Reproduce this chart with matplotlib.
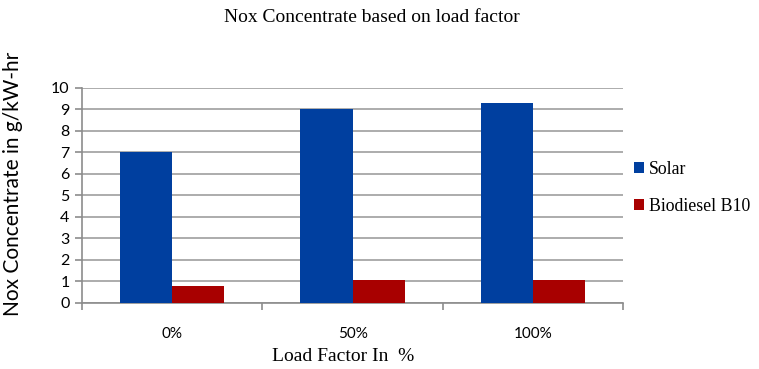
import matplotlib.pyplot as plt
import numpy as np

categories = ['0%', '50%', '100%']
solar = [7.0, 9.0, 9.3]
biodiesel = [0.8, 1.05, 1.05]

fig = plt.figure(figsize=(7.59, 3.69), dpi=100)
ax = fig.add_axes([0.108, 0.179, 0.713, 0.583])

x = np.arange(len(categories))
w = 0.29
ax.bar(x - w / 2, solar, w, color='#003f9f', label='Solar', zorder=3)
ax.bar(x + w / 2, biodiesel, w, color='#a80000', label='Biodiesel B10', zorder=3)

ax.set_xlim(-0.5, len(categories) - 0.5)
ax.set_ylim(0, 10)
ax.set_yticks(range(0, 11))
ax.yaxis.grid(True, color='#a6a6a6', linewidth=1.3, zorder=0)

# category ticks sit on the boundaries, labels in the middle
ax.set_xticks(np.arange(len(categories) + 1) - 0.5)
ax.set_xticklabels([])
ax.set_xticks(x, minor=True)
ax.set_xticklabels(categories, minor=True, fontfamily='Lato', fontsize=11)
ax.tick_params(axis='x', which='minor', length=0, pad=17)
ax.tick_params(axis='x', which='major', length=5, color='#8c8c8c', width=1.2)
ax.tick_params(axis='y', length=5, color='#8c8c8c', width=1.2, pad=4)
for lab in ax.get_yticklabels():
    lab.set_fontfamily('Lato')
    lab.set_fontsize(11.5)

for s in ['top', 'right']:
    ax.spines[s].set_visible(False)
for s in ['left', 'bottom']:
    ax.spines[s].set_color('#8c8c8c')
    ax.spines[s].set_linewidth(1.2)

fig.text(0.49, 0.952, 'Nox Concentrate based on load factor', ha='center', va='center',
         fontfamily='Liberation Serif', fontsize=14)
ax.set_ylabel('Nox Concentrate in g/kW-hr', fontfamily='Lato', fontsize=15)
ax.yaxis.set_label_coords(-0.109, 0.553)
ax.set_xlabel('Load Factor In  %', fontfamily='Liberation Serif', fontsize=14)
ax.xaxis.set_label_coords(0.482, -0.21)

ax.legend(loc='center left', bbox_to_anchor=(1.0, 0.535), frameon=False,
          prop={'family': 'Liberation Serif', 'size': 12.8}, handlelength=0.55, handleheight=0.55,
          handletextpad=0.3, labelspacing=1.15, borderaxespad=0.2)

fig.savefig('out.png', dpi=100)
